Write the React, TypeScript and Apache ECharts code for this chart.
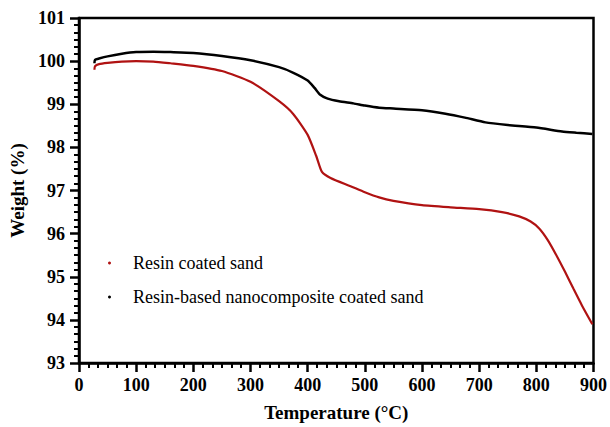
import React, { useEffect, useRef } from "react";
import * as echarts from "echarts";

const xTicks = [0, 100, 200, 300, 400, 500, 600, 700, 800, 900];
const yTicks = [93, 94, 95, 96, 97, 98, 99, 100, 101];

const resinT = [27, 28, 35, 50, 75, 100, 130, 160, 200, 250, 300, 350, 375, 400, 415, 425, 440, 475, 500, 525, 550, 600, 650, 700, 740, 770, 790, 805, 820, 835, 850, 865, 880, 898];
const resinW = [99.8, 99.88, 99.93, 99.96, 99.99, 100.0, 99.99, 99.95, 99.89, 99.77, 99.52, 99.07, 98.77, 98.29, 97.8, 97.43, 97.29, 97.1, 96.96, 96.84, 96.76, 96.66, 96.61, 96.57, 96.5, 96.4, 96.28, 96.12, 95.85, 95.5, 95.12, 94.72, 94.33, 93.9];

const nanoT = [27, 28, 35, 50, 75, 100, 130, 160, 200, 250, 300, 350, 375, 400, 412, 422, 435, 455, 480, 500, 525, 550, 600, 641, 675, 711, 750, 800, 845, 870, 898];
const nanoW = [99.95, 100.03, 100.06, 100.11, 100.17, 100.21, 100.22, 100.21, 100.19, 100.12, 100.02, 99.86, 99.73, 99.55, 99.38, 99.22, 99.13, 99.07, 99.02, 98.97, 98.92, 98.9, 98.86, 98.78, 98.69, 98.58, 98.52, 98.46, 98.37, 98.34, 98.31];

const seriesNames = ["Resin coated sand", "Resin-based nanocomposite coated sand"];

const FONT = "Liberation Serif";

export default function App() {
  const ref = useRef<HTMLDivElement>(null);
  useEffect(() => {
    if (!ref.current) return;
    const chart = echarts.init(ref.current, null, { renderer: "svg" });
    const zip = (a: number[], b: number[]) => a.map((v, i) => [v, b[i]]);
    chart.setOption({
      animation: false,
      backgroundColor: "#fff",
      grid: {
        left: 79,
        right: 15,
        top: 18,
        bottom: 64,
        show: true,
        borderColor: "#000",
        borderWidth: 2.5,
      },
      legend: {
        orient: "vertical",
        left: 103,
        top: 248,
        icon: "circle",
        itemWidth: 3,
        itemHeight: 3,
        itemGap: 14,
        textStyle: {
          fontFamily: FONT,
          fontSize: 18,
          color: "#000",
          lineHeight: 20,
          padding: [0, 0, 0, 17],
        },
        data: seriesNames,
      },
      xAxis: {
        type: "value",
        min: 0,
        max: 900,
        interval: 100,
        name: "Temperature (°C)",
        nameLocation: "middle",
        nameGap: 40,
        nameTextStyle: { fontFamily: FONT, fontSize: 19, fontWeight: "bold", color: "#000" },
        axisLine: { show: true, lineStyle: { color: "#000", width: 2.5 } },
        axisTick: { show: true, length: 9, lineStyle: { color: "#000", width: 2.5 } },
        minorTick: { show: true, splitNumber: 6, length: 5, lineStyle: { color: "#000", width: 2 } },
        axisLabel: {
          margin: 13,
          fontFamily: FONT,
          fontSize: 18,
          fontWeight: "bold",
          color: "#000",
          formatter: (v: number) => (xTicks.includes(v) ? String(v) : ""),
        },
        splitLine: { show: false },
      },
      yAxis: {
        type: "value",
        min: 93,
        max: 101,
        interval: 1,
        name: "Weight (%)",
        nameLocation: "middle",
        nameGap: 52,
        nameRotate: 90,
        nameTextStyle: { fontFamily: FONT, fontSize: 19, fontWeight: "bold", color: "#000" },
        axisLine: { show: true, lineStyle: { color: "#000", width: 2.5 } },
        axisTick: { show: true, length: 9, lineStyle: { color: "#000", width: 2.5 } },
        minorTick: { show: true, splitNumber: 6, length: 5, lineStyle: { color: "#000", width: 2 } },
        axisLabel: {
          margin: 14,
          fontFamily: FONT,
          fontSize: 18,
          fontWeight: "bold",
          color: "#000",
          formatter: (v: number) => (yTicks.includes(v) ? String(v) : ""),
        },
        splitLine: { show: false },
      },
      series: [
        {
          name: seriesNames[0],
          type: "line",
          data: zip(resinT, resinW),
          showSymbol: false,
          smooth: 0.2,
          lineStyle: { color: "#b01212", width: 2.2 },
          itemStyle: { color: "#b01212" },
        },
        {
          name: seriesNames[1],
          type: "line",
          data: zip(nanoT, nanoW),
          showSymbol: false,
          smooth: 0.2,
          lineStyle: { color: "#000", width: 2.5 },
          itemStyle: { color: "#000" },
        },
      ],
    });
    return () => chart.dispose();
  }, []);
  return <div ref={ref} style={{ width: 610, height: 427, position: "absolute", left: 0, top: 0 }} />;
}
